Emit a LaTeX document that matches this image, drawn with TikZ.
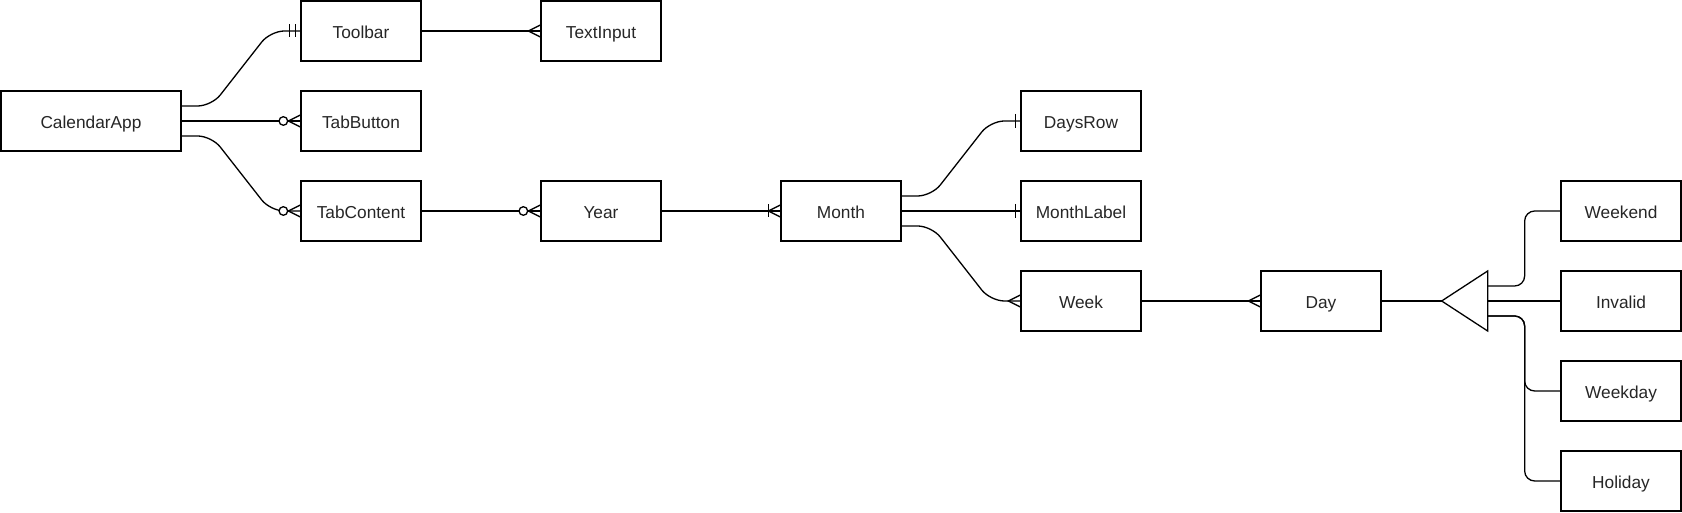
\documentclass[tikz,border=0pt]{standalone}
\usepackage{fontspec}
\setmainfont{Liberation Sans}
\usetikzlibrary{calc,decorations.markings}

\begin{document}
\begin{tikzpicture}[x=1pt, y=1pt, line width=1.3pt,
  entity/.style={draw, minimum width=120, minimum height=60, inner sep=0pt, text height=15.4pt, text depth=0pt, font=\fontsize{17.3}{20}\selectfont, text=black!85},
  rel/.style={rounded corners=14},
  endmark/.style={postaction={decorate, decoration={markings, mark=at position 1 with {#1}}}},
  many/.style={endmark={\draw[sharp corners] (0,6) -- (-12,0) -- (0,-6);}},
  zeromany/.style={endmark={\draw[sharp corners] (0,6) -- (-12,0) -- (0,-6); \draw[fill=white] (-17,0) circle (4.3);}},
  onemany/.style={endmark={\draw[sharp corners] (0,6) -- (-12,0) -- (0,-6); \draw (-12,6.5) -- (-12,-6.5);}},
  one/.style={endmark={\draw (-5,7) -- (-5,-7);}},
  mandone/.style={endmark={\draw (-5,6.5) -- (-5,-6.5); \draw (-11,6.5) -- (-11,-6.5);}}]
  \useasboundingbox (0,0) rectangle (1682,513);

  %--- App and tabs ---
  \node[entity, minimum width=180] (app) at (91,392) {CalendarApp};
  \node[entity] (toolbar) at (361,482) {Toolbar};
  \node[entity] (textinput) at (601,482) {TextInput};
  \node[entity] (tabbutton) at (361,392) {TabButton};
  \node[entity] (tabcontent) at (361,302) {TabContent};

  %--- Calendar ---
  \node[entity] (year) at (601,302) {Year};
  \node[entity] (month) at (841,302) {Month};
  \node[entity] (daysrow) at (1081,392) {DaysRow};
  \node[entity] (monthlabel) at (1081,302) {MonthLabel};
  \node[entity] (week) at (1081,212) {Week};
  \node[entity] (day) at (1321,212) {Day};

  % Day kinds
  \node[entity] (weekend) at (1621,302) {Weekend};
  \node[entity] (invalid) at (1621,212) {Invalid};
  \node[entity] (weekday) at (1621,122) {Weekday};
  \node[entity] (holiday) at (1621,32) {Holiday};

  % inheritance triangle
  \coordinate (isa) at ([xshift=60]day.east);
  \coordinate (isa-up) at ($(isa)+(46,15)$);
  \coordinate (isa-mid) at ($(isa)+(46,0)$);
  \coordinate (isa-down) at ($(isa)+(46,-15)$);
  \draw[line join=miter] (isa) -- ($(isa)+(46,30)$) -- ($(isa)+(46,-30)$) -- cycle;

  %--- Relations ---
  \draw[rel, mandone] ([yshift=15]app.east) -- ++(30,0) -- ([xshift=-30]toolbar.west) -- (toolbar.west);
  \draw[many] (toolbar.east) -- (textinput.west);
  \draw[zeromany] (app.east) -- (tabbutton.west);
  \draw[rel, zeromany] ([yshift=-15]app.east) -- ++(30,0) -- ([xshift=-30]tabcontent.west) -- (tabcontent.west);
  \draw[zeromany] (tabcontent.east) -- (year.west);
  \draw[onemany] (year.east) -- (month.west);

  \draw[rel, one] ([yshift=15]month.east) -- ++(30,0) -- ([xshift=-30]daysrow.west) -- (daysrow.west);
  \draw[one] (month.east) -- (monthlabel.west);
  \draw[rel, many] ([yshift=-15]month.east) -- ++(30,0) -- ([xshift=-30]week.west) -- (week.west);
  \draw[many] (week.east) -- (day.west);
  \draw (day.east) -- (isa);

  \draw[rounded corners=10] (isa-up) -- ++(37,0) |- (weekend.west);
  \draw (isa-mid) -- (invalid.west);
  \draw[rounded corners=10] (isa-down) -- ++(37,0) |- (weekday.west);
  \draw[rounded corners=10] (isa-down) -- ++(37,0) |- (holiday.west);
\end{tikzpicture}
\end{document}
